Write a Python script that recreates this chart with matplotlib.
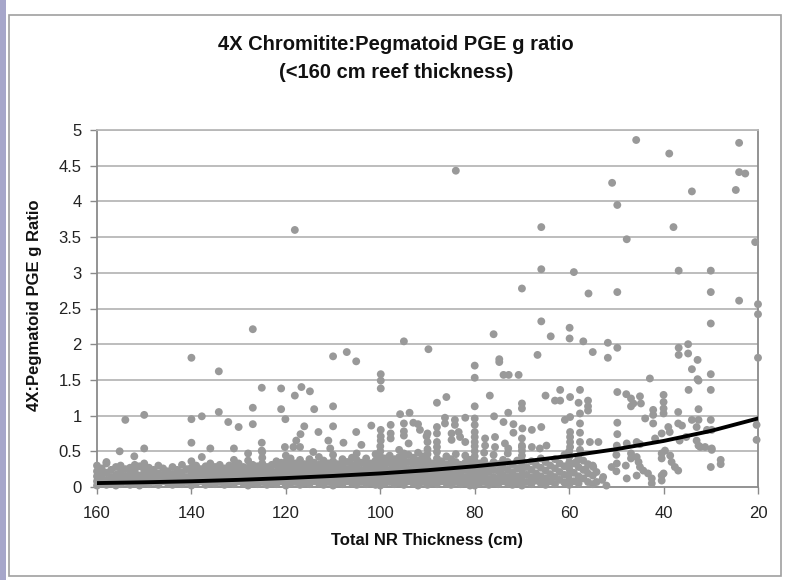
"""
Chromitite:Pegmatoid PGE g ratio vs total NR thickness (scatter + trend line)
"""

import matplotlib
matplotlib.use("Agg")
import matplotlib.pyplot as plt
from matplotlib.patches import Rectangle
from matplotlib.ticker import FormatStrFormatter

plt.rcParams["font.family"] = ["Liberation Sans", "DejaVu Sans"]

# ── Data ─────────────────────────────────────────────────────────
# high outliers (ratio > 1.5)
high_x = [45.8, 38.8, 24.0, 84.0, 50.9, 24.0, 22.7, 34.0, 24.7, 49.8, 65.9, 37.9, 47.8, 20.6,
          118.1, 65.9, 59.0, 36.8, 30.0, 70.0, 55.9, 49.8, 30.0, 24.0, 20.0, 20.0, 65.9, 30.0,
          76.0, 63.9, 59.9, 59.9, 57.0, 95.0, 89.8, 80.0, 74.8, 74.8, 66.7, 55.0, 51.8, 51.8,
          49.8, 36.8, 36.8, 34.8, 34.8, 32.8, 34.0, 20.0, 127.0, 140.0, 134.2, 110.0, 107.1,
          105.1, 99.9, 80.0, 73.9, 72.8, 70.7, 42.9, 32.8, 30.0]
high_y = [4.86, 4.67, 4.82, 4.43, 4.26, 4.41, 4.39, 4.14, 4.16, 3.95, 3.64, 3.64, 3.47, 3.43,
          3.60, 3.05, 3.01, 3.03, 3.03, 2.78, 2.71, 2.73, 2.73, 2.61, 2.56, 2.42, 2.32, 2.29,
          2.14, 2.11, 2.23, 2.08, 2.04, 2.04, 1.93, 1.70, 1.75, 1.79, 1.85, 1.89, 2.02, 1.81,
          1.95, 1.95, 1.85, 2.00, 1.87, 1.78, 1.65, 1.81, 2.21, 1.81, 1.62, 1.83, 1.89,
          1.76, 1.58, 1.53, 1.57, 1.57, 1.57, 1.52, 1.51, 1.58]

# ratio 1.0 - 1.5
upper_x = [125.1, 121.0, 118.1, 116.7, 114.9, 99.9, 99.9, 121.0, 114.0, 110.0, 95.8, 93.8,
           150.0, 134.2, 127.0, 88.0, 86.0, 76.8, 80.0, 72.9, 70.0, 70.0, 65.0, 63.0, 61.9,
           61.9, 59.8, 57.7, 58.0, 56.0, 56.0, 56.0, 57.7, 49.8, 47.9, 46.9, 46.4, 45.0, 44.8,
           46.9, 40.0, 40.0, 40.0, 40.0, 42.2, 42.2, 36.9, 32.6, 34.7, 30.0, 32.6]
upper_y = [1.39, 1.38, 1.28, 1.40, 1.34, 1.49, 1.38, 1.09, 1.09, 1.13, 1.02, 1.04,
           1.01, 1.05, 1.11, 1.18, 1.26, 1.28, 1.13, 1.04, 1.17, 1.10, 1.28, 1.21, 1.21,
           1.36, 1.26, 1.36, 1.18, 1.21, 1.13, 1.07, 1.03, 1.33, 1.30, 1.24, 1.17, 1.27, 1.17,
           1.13, 1.29, 1.19, 1.10, 1.03, 1.08, 1.01, 1.05, 1.09, 1.36, 1.36, 1.49]

# ratio below 1.0 (individually readable points)
mid_x = [154.0, 140.0, 137.8, 132.2, 130.0, 127.0, 125.1, 140.0, 155.2, 150.0, 152.1, 158.0,
         136.0, 137.8, 131.0, 128.0, 125.1, 120.1, 110.0, 116.1, 116.9, 113.1, 117.8, 125.0,
         111.0, 107.8, 105.1, 104.0, 101.9, 99.9, 99.9, 99.9, 97.8, 97.8, 97.8, 95.0, 95.0,
         95.0, 93.0, 92.0, 94.0, 91.6, 90.2, 118.4, 117.0, 120.2, 114.2, 110.6, 105.0,
         82.0, 86.3, 86.3, 84.2, 84.2, 80.0, 80.0, 80.0, 80.0, 75.9, 73.9, 71.8, 71.8, 69.9,
         67.9, 65.9, 57.7, 60.9, 59.8, 59.8, 59.8, 59.8, 59.8, 57.7, 57.7, 57.7, 55.6, 88.0,
         88.0, 88.0, 88.0, 90.0, 90.0, 84.9, 84.9, 83.4, 83.1, 82.0, 77.8, 77.8, 75.7, 75.7,
         73.6, 72.9, 70.0, 70.0, 67.9, 66.2, 64.8,
         43.9, 42.2, 39.0, 36.9, 36.1, 34.0, 32.6, 30.0, 30.8, 49.8, 49.8, 53.8, 49.9, 47.8,
         45.7, 45.0, 41.8, 40.4, 38.7, 36.6, 35.2, 33.0, 32.6, 31.2, 29.8, 20.3, 20.3, 33.0,
         32.2, 29.8, 29.8,
         30.0, 27.9, 27.9, 54.9, 54.2, 52.8, 52.1, 54.2, 51.0, 49.9, 46.9, 46.9, 45.7, 45.3,
         45.0, 47.8, 45.7, 44.3, 43.3, 42.5, 42.5, 40.4, 40.4, 39.7, 40.4, 40.4, 38.6, 38.3,
         37.6, 36.9, 40.0, 50.0, 50.0, 48.0, 58.5, 56.5, 53.0]
mid_y = [0.94, 0.95, 0.99, 0.91, 0.84, 0.88, 0.62, 0.62, 0.50, 0.54, 0.43, 0.35,
         0.54, 0.42, 0.54, 0.47, 0.51, 0.95, 0.85, 0.85, 0.74, 0.77, 0.65, 0.49,
         0.65, 0.62, 0.77, 0.59, 0.86, 0.80, 0.71, 0.65, 0.87, 0.75, 0.68, 0.89, 0.78,
         0.72, 0.90, 0.88, 0.61, 0.80, 0.71, 0.56, 0.56, 0.56, 0.49, 0.54, 0.47,
         0.97, 0.97, 0.89, 0.94, 0.87, 0.96, 0.87, 0.77, 0.70, 0.99, 0.91, 0.88, 0.76, 0.82,
         0.80, 0.84, 0.89, 0.94, 0.98, 0.77, 0.70, 0.63, 0.56, 0.76, 0.63, 0.52, 0.63, 0.84,
         0.75, 0.63, 0.56, 0.75, 0.63, 0.75, 0.66, 0.77, 0.70, 0.63, 0.68, 0.58, 0.70, 0.56,
         0.61, 0.54, 0.68, 0.56, 0.56, 0.54, 0.58,
         0.96, 0.89, 0.84, 0.89, 0.86, 0.94, 0.94, 0.94, 0.80, 0.90, 0.74, 0.63, 0.58, 0.61,
         0.63, 0.60, 0.68, 0.75, 0.77, 0.65, 0.70, 0.65, 0.58, 0.56, 0.52, 0.87, 0.66, 0.84,
         0.56, 0.80, 0.54,
         0.28, 0.38, 0.32, 0.28, 0.21, 0.14, 0.02, 0.07, 0.28, 0.33, 0.47, 0.40, 0.42, 0.35,
         0.28, 0.12, 0.16, 0.23, 0.19, 0.12, 0.05, 0.47, 0.40, 0.51, 0.16, 0.09, 0.44, 0.35,
         0.28, 0.23, 0.19, 0.45, 0.22, 0.30, 0.35, 0.25, 0.10]

# dense low band: thickness column -> ratios
band_x = list(range(160, 54, -1))
band_y = [
    [.02, .08, .15, .22, .30], [.05, .12, .18, .26], [.03, .10, .20, .33], [.06, .14, .24],
    [.02, .09, .17, .28], [.04, .12, .21, .30], [.07, .15, .25], [.03, .10, .19, .27],
    [.05, .13, .22, .31], [.02, .09, .16, .29], [.06, .14, .23, .33], [.04, .11, .20, .27],
    [.07, .15, .24], [.03, .12, .19, .30], [.08, .16, .26], [.05, .13, .22],
    [.03, .10, .18, .28], [.06, .15, .24], [.04, .11, .20, .31], [.07, .14, .25],
    [.02, .09, .18, .27, .36], [.05, .13, .22, .30], [.08, .16, .25], [.03, .11, .20, .29],
    [.06, .14, .23, .33], [.04, .12, .19, .28], [.07, .15, .24, .31], [.03, .10, .18, .26],
    [.06, .13, .22, .30], [.04, .11, .20, .29, .38], [.08, .16, .25, .33], [.05, .12, .21, .28],
    [.02, .09, .18, .27, .37], [.06, .14, .23, .31], [.04, .12, .20, .29], [.07, .15, .24, .33, .41],
    [.03, .10, .19, .28], [.06, .13, .22, .31], [.04, .11, .20, .30, .36], [.08, .16, .25, .34],
    [.02, .09, .18, .27, .35, .44], [.05, .13, .22, .31, .40], [.07, .15, .24, .33],
    [.03, .11, .20, .29, .38], [.06, .14, .23, .32], [.04, .12, .21, .30, .39],
    [.08, .16, .25, .34], [.05, .13, .22, .31, .42], [.03, .10, .19, .28, .37],
    [.07, .15, .24, .33], [.02, .09, .18, .27, .36, .45], [.06, .14, .23, .32],
    [.04, .12, .21, .30, .39], [.08, .16, .25, .35], [.05, .13, .22, .31, .41],
    [.03, .11, .20, .29, .38], [.07, .15, .24, .34], [.04, .12, .21, .30, .40],
    [.06, .14, .23, .33], [.03, .10, .19, .28, .37, .46],
    [.02, .08, .15, .22, .29, .36, .43, .50, .57],
    [.05, .13, .22, .31, .40], [.07, .15, .24, .34, .44], [.04, .12, .21, .30, .39],
    [.06, .14, .23, .33, .42, .52], [.03, .11, .20, .29, .38, .47], [.08, .16, .25, .35, .45],
    [.05, .13, .22, .32, .41], [.02, .10, .19, .28, .37, .48], [.07, .15, .24, .34, .43],
    [.03, .10, .17, .24, .31, .38, .46, .53],
    [.06, .14, .23, .33], [.04, .12, .21, .30, .40, .49], [.08, .16, .26, .36],
    [.05, .13, .22, .32, .43], [.03, .11, .20, .29, .39], [.07, .15, .25, .35, .46],
    [.04, .12, .21, .31], [.06, .14, .24, .34, .44], [.02, .10, .19, .29, .38],
    [.02, .08, .15, .22, .29, .36, .43, .50, .57, .63],
    [.05, .13, .23, .33], [.07, .16, .26, .37, .48], [.03, .11, .21, .30],
    [.06, .14, .24, .35, .45], [.04, .12, .22, .32], [.08, .17, .27, .38],
    [.05, .14, .24, .35, .47], [.03, .11, .20, .31], [.06, .15, .26, .37],
    [.02, .09, .16, .23, .30, .37, .44, .51, .58],
    [.07, .17, .28], [.04, .13, .24, .36], [.09, .19, .31], [.05, .15, .27, .40],
    [.03, .12, .23, .35], [.08, .18, .30], [.04, .14, .26, .39], [.10, .21, .33],
    [.06, .17, .29, .45],
    [.03, .10, .18, .26, .34, .42, .50],
    [.08, .20, .33], [.05, .15, .28, .41], [.12, .24, .37], [.07, .19, .32],
    [.04, .16, .30],
]

# fitted trend line, read at 10 cm steps
trend_x = [160, 150, 140, 130, 120, 110, 100, 90, 80, 70, 60, 50, 40, 30, 20]
trend_y = [0.055, 0.066, 0.08, 0.10, 0.125, 0.155, 0.19, 0.235, 0.29, 0.355, 0.435, 0.53,
           0.645, 0.785, 0.96]

x_ticks = [160, 140, 120, 100, 80, 60, 40, 20]
y_ticks = [0, 0.5, 1, 1.5, 2, 2.5, 3, 3.5, 4, 4.5, 5]

DOT = "#999999"
GRID = "#b8b8b8"
AXIS = "#8a8a8a"

# ── Flatten the band columns ─────────────────────────────────────
band_px, band_py = [], []
for x, ys in zip(band_x, band_y):
    for y in ys:
        band_px.append(x)
        band_py.append(y)

all_x = high_x + upper_x + mid_x + band_px
all_y = high_y + upper_y + mid_y + band_py

# ── Figure ───────────────────────────────────────────────────────
W, H = 787, 580
fig = plt.figure(figsize=(W / 100, H / 100), dpi=100)
fig.patch.set_facecolor("white")

# slide strip on the left and chart border
fig.patches.append(Rectangle((0, 0), 6 / W, 1, transform=fig.transFigure,
                             facecolor="#a6a6ca", edgecolor="none"))
fig.patches.append(Rectangle((9 / W, 1 - 576 / H), (781 - 9) / W, (576 - 15) / H,
                             transform=fig.transFigure, fill=False,
                             edgecolor="#a0a0a0", linewidth=1.2))

ax = fig.add_axes([97 / W, 1 - 487 / H, (758 - 97) / W, (487 - 130) / H])
ax.set_xlim(160, 20)
ax.set_ylim(0, 5)

for yv in y_ticks[1:]:
    ax.axhline(yv, color=GRID, linewidth=1.3, zorder=1)

ax.scatter(all_x, all_y, s=32, color=DOT, edgecolors="none", zorder=3, clip_on=False)
ax.plot(trend_x, trend_y, color="black", linewidth=2.8, zorder=4,
        solid_capstyle="round", solid_joinstyle="round")

ax.set_xticks(x_ticks)
ax.set_yticks(y_ticks)
ax.yaxis.set_major_formatter(FormatStrFormatter("%g"))
ax.tick_params(axis="both", direction="out", length=5, width=1, color=AXIS,
               labelsize=12, labelcolor="#222222")
ax.tick_params(axis="x", pad=9)
ax.tick_params(axis="y", pad=6)

for side in ["left", "bottom", "right", "top"]:
    ax.spines[side].set_color(AXIS)
    ax.spines[side].set_linewidth(1.3)
ax.spines["top"].set_color(GRID)

fig.text(396 / W, 1 - 44 / H, "4X Chromitite:Pegmatoid PGE g ratio",
         ha="center", va="center", fontsize=14.5, fontweight="bold", color="#111111")
fig.text(396 / W, 1 - 72 / H, "(<160 cm reef thickness)",
         ha="center", va="center", fontsize=14.5, fontweight="bold", color="#111111")
fig.text(427 / W, 1 - 541 / H, "Total NR Thickness (cm)",
         ha="center", va="center", fontsize=12, fontweight="bold", color="#111111")
fig.text(35 / W, 1 - 305 / H, "4X:Pegmatoid PGE g Ratio", rotation=90,
         ha="center", va="center", fontsize=12, fontweight="bold", color="#111111")

fig.savefig("out.png", dpi=100)
